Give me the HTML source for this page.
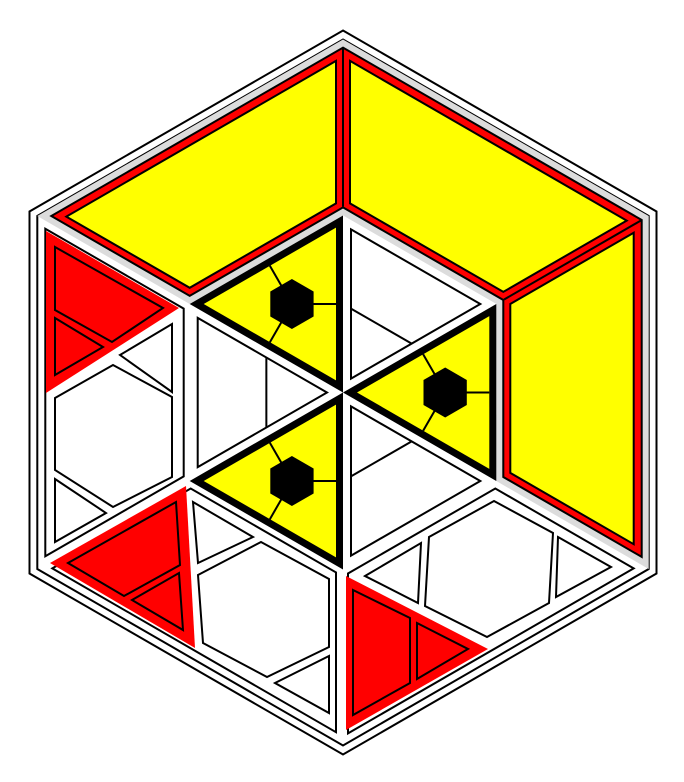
<!DOCTYPE html>
<html><head><meta charset="utf-8"><title>Hexagonal cube figure</title>
<style>html,body{margin:0;padding:0;background:#fff}svg{display:block}</style></head>
<body>
<svg id="fig" width="684" height="782" viewBox="0 0 684 782" xmlns="http://www.w3.org/2000/svg"></svg>
<script>
const CX = 343, CY = 392.5;
const R_OUT1 = 362, R_OUT2 = 353, R_IN = 177;
const yellowTris = [5, 1, 3];
const whiteTris = [0, 2, 4];
const leftPanel = {
  red: [[46,231],[179,308],[46,393]],
  quads: [[[55,247],[163,308],[112,342],[55,310]]],
  redTris: [[[55,318],[103,347],[55,375]]],
  white: [[[120,355],[172,324],[172,392]],[[55,398],[113,365],[172,397],[172,477],[113,507],[55,470]],[[55,479],[106,513],[55,542]]]
};
const blPanel = {
  red: [[50,563],[186,486],[195,648]],
  quads: [[[68,563],[176,502],[180,565],[124,596]]],
  redTris: [[[132,600],[179,573],[183,630]]],
  white: [[[193,502],[253,537],[198,563]],[[198,575],[261,542],[329,579],[329,647],[267,677],[203,643]],[[275,683],[329,656],[329,713]]]
};
const brPanel = {
  red: [[346,576],[488,649],[346,730]],
  quads: [[[353,590],[410,618],[410,683],[353,715]]],
  redTris: [[[417,623],[468,649],[417,679]]],
  white: [[[494,501],[553,533],[549,603],[487,637],[425,606],[429,537]],[[365,576],[421,543],[418,603]],[[558,537],[611,567],[556,597]]]
};

const svg = document.getElementById('fig');
const NS = 'http://www.w3.org/2000/svg';
function V(r, k){ const a = k*Math.PI/3; return [CX + r*Math.sin(a), CY - r*Math.cos(a)]; }
function area(p){ let s=0; for(let i=0;i<p.length;i++){const a=p[i],b=p[(i+1)%p.length]; s+=a[0]*b[1]-b[0]*a[1];} return s/2; }
function offset(p, d){
  const n = p.length, sg = Math.sign(area(p)), L = [];
  for(let i=0;i<n;i++){
    const a=p[i], b=p[(i+1)%n], dx=b[0]-a[0], dy=b[1]-a[1], len=Math.hypot(dx,dy);
    const di = Array.isArray(d)? d[i] : d;
    const nx = sg*(-dy)/len, ny = sg*dx/len;
    L.push([a[0]+nx*di, a[1]+ny*di, dx, dy]);
  }
  const out=[];
  for(let i=0;i<n;i++){
    const l1=L[(i-1+n)%n], l2=L[i];
    const den = l1[2]*l2[3]-l1[3]*l2[2];
    const t = ((l2[0]-l1[0])*l2[3]-(l2[1]-l1[1])*l2[2])/den;
    out.push([l1[0]+l1[2]*t, l1[1]+l1[3]*t]);
  }
  return out;
}
function poly(pts, fill, stroke, sw, name){
  const el = document.createElementNS(NS,'polygon');
  el.setAttribute('points', pts.map(p=>p[0].toFixed(1)+','+p[1].toFixed(1)).join(' '));
  el.setAttribute('fill', fill);
  el.setAttribute('stroke', stroke);
  el.setAttribute('stroke-width', sw);
  el.setAttribute('stroke-linejoin', 'miter');
  
  
  svg.appendChild(el);
  return el;
}
function line(a, b, sw, name){
  const el = document.createElementNS(NS,'line');
  el.setAttribute('x1',a[0]); el.setAttribute('y1',a[1]);
  el.setAttribute('x2',b[0]); el.setAttribute('y2',b[1]);
  el.setAttribute('stroke','#000');
  el.setAttribute('stroke-width',sw);
  
  
  svg.appendChild(el);
}
const hexPts = r => [0,1,2,3,4,5].map(k=>V(r,k));

// outer hex lines
poly(hexPts(R_OUT1), 'none', '#000', 2, 'outer-hexagon-border');
poly(hexPts(R_OUT2), 'none', '#000', 2, 'inner-hexagon-border');

// lower panels outlines
const O = k=>V(R_OUT2,k), I = k=>V(R_IN,k);
poly(offset([O(5),I(5),I(4),O(4)],[7,6,7,8]), '#fff', '#000', 2, 'left-panel-outline');
poly(offset([O(4),I(4),I(3),O(3)],[7,6,7,8]), '#fff', '#000', 2, 'bottom-left-panel-outline');
poly(offset([O(3),I(3),I(2),O(2)],[5,6,7,8]), '#fff', '#000', 2, 'bottom-right-panel-outline');

function drawPanel(P, nm){
  poly(P.red, '#ff0000', 'none', 0, nm+'-red-triangle');
  P.quads.forEach((q,i)=>poly(q,'#ff0000','#000',2,nm+'-red-trapezoid'));
  P.redTris.forEach((q,i)=>poly(q,'#ff0000','#000',2,nm+'-red-small-triangle'));
  P.white.forEach((q,i)=>poly(q,'#fff','#000',2,nm+'-white-tile'));
}
drawPanel(leftPanel,'left-panel');
drawPanel(blPanel,'bottom-left-panel');
drawPanel(brPanel,'bottom-right-panel');

// upper right yellow group
const grayPoly = [O(0),O(1),O(2),I(2),I(1),I(0),I(5),O(5)];
poly(grayPoly, '#dcdcdc', 'none', 0, 'gray-band');
poly(offset(grayPoly, 7), '#ff0000', '#000', 2, 'red-band');
line(V(R_OUT2-9,0), V(R_IN+9,0), 2, 'red-divider-top');
line(V(R_OUT2-9,1), V(R_IN+9,1), 2, 'red-divider-right');
poly(offset([O(0),I(0),I(5),O(5)],[7,14,14,15]), '#ffff00', '#000', 2, 'yellow-panel-top-left');
poly(offset([O(0),O(1),I(1),I(0)],[15,7,14,7]), '#ffff00', '#000', 2, 'yellow-panel-top-right');
poly(offset([O(1),O(2),I(2),I(1)],[15,14,14,7]), '#ffff00', '#000', 2, 'yellow-panel-right');

// inner hexagon
poly(hexPts(R_IN), '#fff', 'none', 0, 'center-hexagon');
const C=[CX,CY];
whiteTris.forEach(k=>{
  const t=[I(k),I(k+1),C];
  poly(offset(t,8),'#fff','#000',2,'center-white-triangle');
  const m1=[(I(k)[0]+CX)/2,(I(k)[1]+CY)/2], m2=[(I(k+1)[0]+CX)/2,(I(k+1)[1]+CY)/2];
  const dx=m2[0]-m1[0], dy=m2[1]-m1[1], l=Math.hypot(dx,dy), s=9.2;
  line([m1[0]+dx/l*s,m1[1]+dy/l*s],[m2[0]-dx/l*s,m2[1]-dy/l*s],2,'center-white-divider');
});
yellowTris.forEach(k=>{
  const t=[I(k),I(k+1),C];
  poly(t,'#000','none',0,'center-thick-border');
  const y=offset(t,7);
  poly(y,'#ffff00','none',0,'center-yellow-triangle');
  const G=[(t[0][0]+t[1][0]+t[2][0])/3,(t[0][1]+t[1][1]+t[2][1])/3];
  for(let i=0;i<3;i++){
    const a=y[i], b=y[(i+1)%3], dx=b[0]-a[0], dy=b[1]-a[1];
    const u=((G[0]-a[0])*dx+(G[1]-a[1])*dy)/(dx*dx+dy*dy);
    line(G,[a[0]+dx*u,a[1]+dy*u],2,'hexagon-spoke');
  }
  const h=[0,1,2,3,4,5].map(j=>{const a=j*Math.PI/3;return [G[0]+25*Math.sin(a),G[1]-25*Math.cos(a)];});
  poly(h,'#000','none',0,'black-hexagon');
});
</script>
</body></html>
